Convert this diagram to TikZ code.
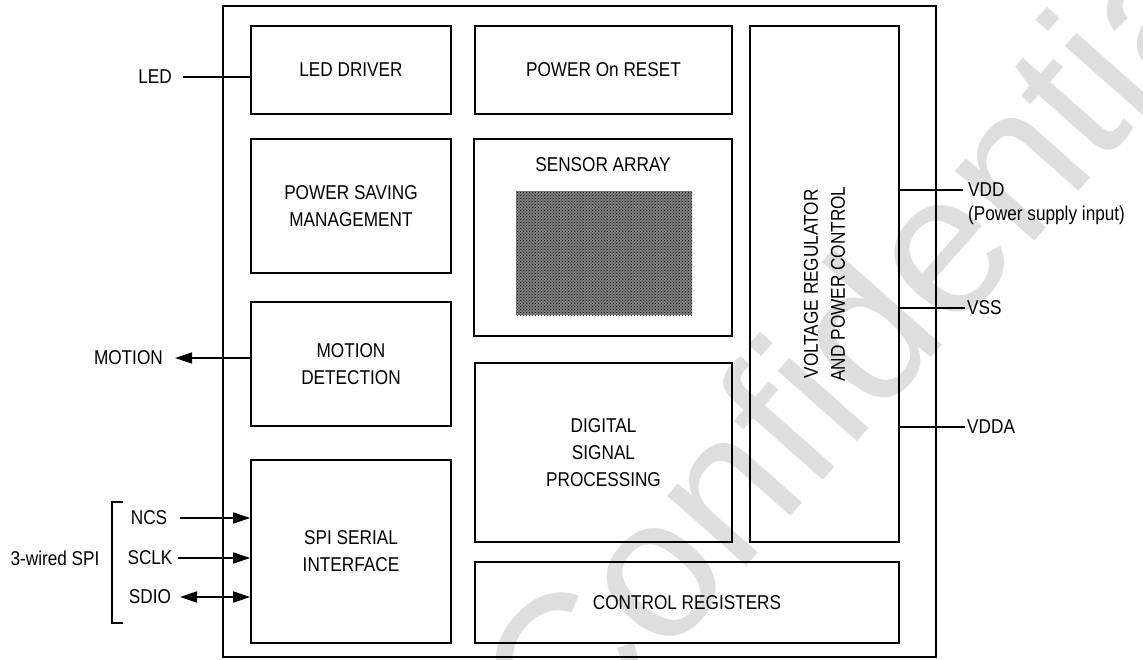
\documentclass[tikz,border=0pt]{standalone}
\usepackage{fontspec}
\setmainfont[FakeStretch=0.86]{Liberation Sans}
\newfontfamily\wmfont{Liberation Sans}
\usetikzlibrary{arrows.meta,patterns}
\begin{document}
\begin{tikzpicture}[x=1pt,y=-1pt,
  blk/.style={draw,line width=1.6pt,inner sep=0pt,align=center,font=\fontsize{20}{27}\selectfont},
  lbl/.style={font=\fontsize{20}{27}\selectfont,inner sep=0pt,align=center},
  wire/.style={line width=1.6pt},
  arr/.style={wire,-{Triangle[length=17pt,width=11pt]}},
  darr/.style={wire,{Triangle[length=17pt,width=11pt]}-{Triangle[length=17pt,width=11pt]}}]
\useasboundingbox (0,0) rectangle (1143,659);
% watermark
\node[font=\wmfont\fontsize{200}{200}\selectfont,text=black!13,rotate=48.5,inner sep=0pt] (wm) at (865,325) {Confidential};
% outer frame
\node[blk,minimum width=713pt,minimum height=651pt] (outer) at (579.5,331.5) {};
% blocks
\node[blk,minimum width=200pt,minimum height=88pt] (led) at (351,70) {LED DRIVER};
\node[blk,minimum width=257pt,minimum height=88pt] (por) at (603.5,70) {POWER On RESET};
\node[blk,minimum width=149pt,minimum height=516pt] (vr) at (824.5,284) {};
\node[lbl,rotate=90] (vrtxt) at (vr.center) {VOLTAGE REGULATOR\\AND POWER CONTROL};
\node[blk,minimum width=200pt,minimum height=134pt] (ps) at (351,206) {POWER SAVING\\MANAGEMENT};
\node[blk,minimum width=258pt,minimum height=197pt] (sensor) at (603,237.5) {};
\node[lbl] (sensortxt) at (603,165) {SENSOR ARRAY};
\fill[black!50] (516,191) rectangle (692,315);
\fill[pattern=crosshatch dots,pattern color=black] (516,191) rectangle (692,315);
\node[blk,minimum width=200pt,minimum height=124pt] (motion) at (351,364) {MOTION\\DETECTION};
\node[blk,minimum width=257pt,minimum height=179pt] (dsp) at (603.5,452.5) {DIGITAL\\SIGNAL\\PROCESSING};
\node[blk,minimum width=200pt,minimum height=183pt] (spi) at (351,551.5) {SPI SERIAL\\INTERFACE};
\node[blk,minimum width=424pt,minimum height=81pt] (ctrl) at (687,602.5) {CONTROL REGISTERS};
% left side signals
\node[lbl,anchor=east] (ledlbl) at (172,77) {LED};
\coordinate (ledend) at (183,77);
\draw[wire] (ledend) -- (ledend -| led.west);
\node[lbl,anchor=east] (motionlbl) at (163,358) {MOTION};
\coordinate (motionend) at (175,358);
\draw[arr] (motionend -| motion.west) -- (motionend);
\node[lbl] (ncs) at (149,518) {NCS};
\node[lbl] (sclk) at (150,558) {SCLK};
\node[lbl] (sdio) at (150,597) {SDIO};
\coordinate (ncsend) at (180,518);
\coordinate (sclkend) at (178,558);
\coordinate (sdioend) at (180,597);
\draw[arr] (ncsend) -- (ncsend -| spi.west);
\draw[arr] (sclkend) -- (sclkend -| spi.west);
\draw[darr] (sdioend) -- (sdioend -| spi.west);
\draw[wire,line width=1.4pt] (123,502) -- (112,502) -- (112,623) -- (123,623);
\node[lbl] (spilbl) at (55,558) {3-wired SPI};
% right side signals
\coordinate (vddend) at (963,190);
\coordinate (vssend) at (965,308);
\coordinate (vddaend) at (965,427);
\draw[wire] (vddend -| vr.east) -- (vddend);
\draw[wire] (vssend -| vr.east) -- (vssend);
\draw[wire] (vddaend -| vr.east) -- (vddaend);
\node[lbl,anchor=west] (vdd) at (968,190) {VDD};
\node[lbl,anchor=west] (psi) at (968,215) {(Power supply input)};
\node[lbl,anchor=west] (vss) at (967,308) {VSS};
\node[lbl,anchor=west] (vdda) at (967,427) {VDDA};
\end{tikzpicture}
\end{document}
